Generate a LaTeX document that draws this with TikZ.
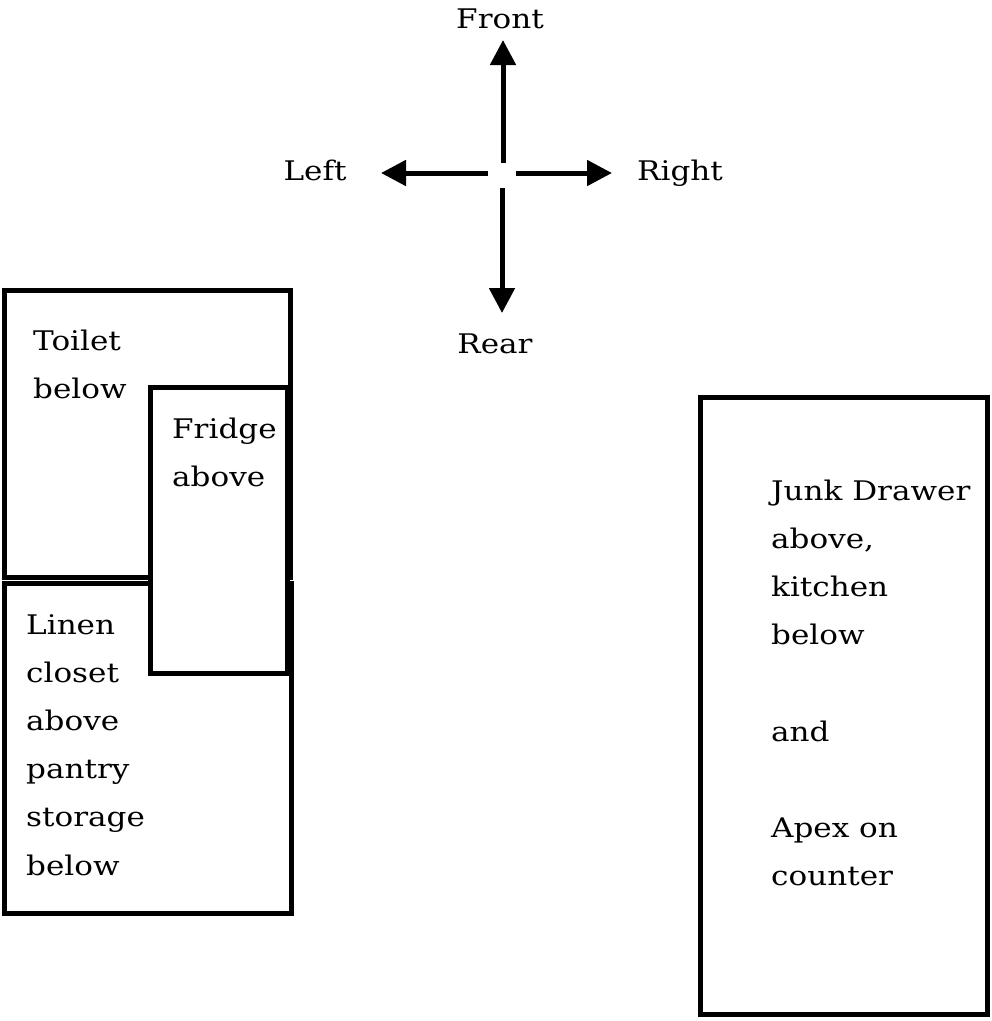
\documentclass[tikz,border=0pt]{standalone}
\usepackage{fontspec}
\setmainfont{DejaVu Serif}[FakeStretch=1.15]
\usetikzlibrary{arrows.meta}
\newcommand{\txtlines}[1]{\vtop{\baselineskip=48.2pt\lineskiplimit=-100pt #1}}
\begin{document}
\begin{tikzpicture}[x=1pt,y=-1pt,
  wall/.style={line width=5pt},
  arr/.style={line width=5pt,-{Triangle[length=25pt,width=25pt]}},
  lbl/.style={inner sep=0pt,font=\fontsize{27}{30}\selectfont},
  roomtext/.style={inner sep=0pt,anchor=base west,font=\fontsize{27}{30}\selectfont}]
\useasboundingbox (0,0) rectangle (992,1021);
% compass
\node[lbl,anchor=base] (front) at (500,28) {Front};
\node[lbl,anchor=base] (left) at (315,180) {Left};
\node[lbl,anchor=base west] (right) at (637,180) {Right};
\node[lbl,anchor=base] (rear) at (495,353) {Rear};
\coordinate (cN) at (503,163);
\coordinate (tN) at (503,40);
\coordinate (cW) at (488,173);
\coordinate (tW) at (381,173);
\coordinate (cE) at (516,173);
\coordinate (tE) at (612,173);
\coordinate (cS) at (502,188);
\coordinate (tS) at (502,313);
\draw[arr] (cN) -- (tN);
\draw[arr] (cW) -- (tW);
\draw[arr] (cE) -- (tE);
\draw[arr] (cS) -- (tS);
% left rooms
\draw[wall] (4.5,290) rectangle (290.5,577);
\draw[wall] (4.5,583) rectangle (291,913);
\draw[wall,fill=white] (150.5,387) rectangle (287,673);
% right room
\draw[wall] (700.5,397.5) rectangle (987.5,1014);
% texts
\node[roomtext] (toilet) at (33,350) {\txtlines{\hbox{Toilet}\hbox{below}}};
\node[roomtext] (fridge) at (172,438) {\txtlines{\hbox{Fridge}\hbox{above}}};
\node[roomtext] (linen) at (26,634) {\txtlines{\hbox{Linen}\hbox{closet}\hbox{above}\hbox{pantry}\hbox{storage}\hbox{below}}};
\node[roomtext] (junk) at (771,500) {\txtlines{\hbox{Junk Drawer}\hbox{above,}\hbox{kitchen}\hbox{below}\hbox{}\hbox{and}\hbox{}\hbox{Apex on}\hbox{counter}}};
\end{tikzpicture}
\end{document}
